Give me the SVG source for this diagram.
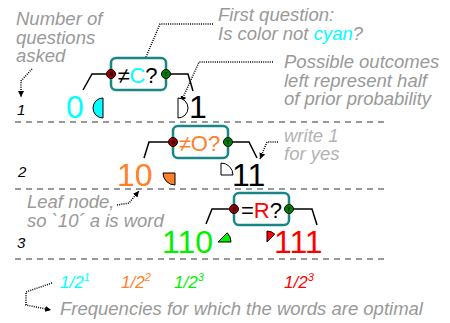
<svg xmlns="http://www.w3.org/2000/svg" width="450" height="323" viewBox="0 0 450 323">
<style>
text{font-family:"Liberation Sans",Arial,sans-serif}
.note{font-size:18.5px;font-style:italic;fill:#999}
.light{font-size:18.5px;font-style:italic;fill:#b3b3b3}
.row{font-size:15px;font-style:italic;fill:#000}
.big{font-size:32px}
.q{font-size:22px;text-anchor:middle}
.box{fill:#fff;stroke:#1a8585;stroke-width:2.5}
.no{fill:#a00000;stroke:#000;stroke-width:1}
.yes{fill:#008000;stroke:#000;stroke-width:1}
.lbl{font-size:5px;font-weight:bold;text-anchor:middle;fill:#000}
.conn{fill:none;stroke:#000;stroke-width:1.5}
.dash{fill:none;stroke:#999;stroke-width:2;stroke-dasharray:6 5}
.dot{fill:none;stroke:#000;stroke-width:1.5;stroke-dasharray:1 1.2}
.pie{stroke:#000;stroke-width:1}
.frac{font-size:17px;font-style:italic}
</style>
<defs>
<marker id="ah" markerUnits="userSpaceOnUse" markerWidth="7" markerHeight="6" refX="6" refY="3" orient="auto">
<path d="M0,0 L6,3 L0,6 z" fill="#000"/>
</marker>
</defs>

<g id="separators">
<line class="dash" x1="15" y1="122" x2="385" y2="122"/>
<line class="dash" x1="15" y1="189" x2="385" y2="189"/>
<line class="dash" x1="15" y1="259" x2="385" y2="259"/>
</g>

<g id="connectors">
<path class="conn" d="M111,74 L92,74 L83,90"/>
<path class="conn" d="M166,74 L188,74 L193,91"/>
<path class="conn" d="M173,142 L149,142 L144,158"/>
<path class="conn" d="M228,142 L249,142 L257,158"/>
<path class="conn" d="M234,209 L212,209 L206,224"/>
<path class="conn" d="M289,209 L312,209 L317,225"/>
</g>

<g id="annotation-arrows">
<path class="dot" d="M32,69 L21,81 L21,97" marker-end="url(#ah)"/>
<path class="dot" d="M213,24 L160,24 L143,64" marker-end="url(#ah)"/>
<path class="dot" d="M273,62 L199,62 L181,102" marker-end="url(#ah)"/>
<path class="dot" d="M278,142 L267,142 L260,159" marker-end="url(#ah)"/>
<path class="dot" d="M117,205 L129,203 L139,191" marker-end="url(#ah)"/>
<path class="dot" d="M52,283 L26,292 L26,305 L51,310" marker-end="url(#ah)"/>
</g>

<g id="q1">
<rect class="box" x="111" y="58" width="55" height="32" rx="5"/>
<text class="q" x="137.5" y="83"><tspan fill="#000">≠</tspan><tspan fill="#00ffff">C</tspan><tspan fill="#000">?</tspan></text>
<circle class="no" cx="111" cy="74" r="4.5"/><text class="lbl" x="111" y="75.8">N</text>
<circle class="yes" cx="166" cy="74" r="4.5"/><text class="lbl" x="166" y="75.8">Y</text>
</g>

<g id="q2">
<rect class="box" x="173" y="126" width="55" height="32" rx="5"/>
<text class="q" x="199.5" y="151" fill="#ff7f2a">≠O?</text>
<circle class="no" cx="173" cy="142" r="4.5"/><text class="lbl" x="173" y="143.8">N</text>
<circle class="yes" cx="228" cy="142" r="4.5"/><text class="lbl" x="228" y="143.8">Y</text>
</g>

<g id="q3">
<rect class="box" x="234" y="193" width="55" height="32" rx="5"/>
<text class="q" x="261.5" y="218"><tspan fill="#000">=</tspan><tspan fill="#ff0000">R</tspan><tspan fill="#000">?</tspan></text>
<circle class="no" cx="234" cy="209" r="4.5"/><text class="lbl" x="234" y="210.8">N</text>
<circle class="yes" cx="289" cy="209" r="4.5"/><text class="lbl" x="289" y="210.8">Y</text>
</g>

<g id="leaf-0">
<text class="big" x="66" y="118" fill="#00ffff">0</text>
<path class="pie" d="M103,98 A10,10 0 0,0 103,118 Z" fill="#00ffff"/>
</g>
<g id="node-1">
<path class="pie" d="M178,98 A10,10 0 0,1 178,118 Z" fill="#fff"/>
<text class="big" x="189" y="118" fill="#000">1</text>
</g>
<g id="leaf-10">
<text class="big" x="117" y="186" fill="#ff7f2a">10</text>
<path class="pie" d="M175,173 L163,173 A12,12 0 0,0 175,185 Z" fill="#ff7f2a"/>
</g>
<g id="node-11">
<path class="pie" d="M221,175 L221,163 A12,12 0 0,1 233,175 Z" fill="#fff"/>
<text class="big" x="232" y="186" fill="#000">11</text>
</g>
<g id="leaf-110">
<text class="big" x="162" y="253" fill="#00f000">110</text>
<path class="pie" d="M218,242 L231,242 A13,13 0 0,0 227.2,232.8 Z" fill="#00f000"/>
</g>
<g id="leaf-111">
<path class="pie" d="M267,242 L267,231 A11,11 0 0,1 274.8,234.2 Z" fill="#ff0000"/>
<text class="big" x="274" y="253" fill="#ff0000">111</text>
</g>

<g id="row-labels">
<text class="row" x="17" y="115">1</text>
<text class="row" x="18" y="177">2</text>
<text class="row" x="17" y="248">3</text>
</g>

<g id="notes">
<text class="note" x="16" y="25">Number of</text>
<text class="note" x="16" y="43.5">questions</text>
<text class="note" x="16" y="62">asked</text>
<text class="note" x="218" y="21">First question:</text>
<text class="note" x="218" y="40">Is color not <tspan fill="#00ffff">cyan</tspan>?</text>
<text class="note" x="284" y="68">Possible outcomes</text>
<text class="note" x="284" y="86.5">left represent half</text>
<text class="note" x="284" y="105">of prior probability</text>
<text class="light" x="284" y="142">write 1</text>
<text class="light" x="284" y="160">for yes</text>
<text class="note" x="27" y="208">Leaf node,</text>
<text class="note" x="27" y="227">so `10´ a is word</text>
<text class="note" x="60" y="315">Frequencies for which the words are optimal</text>
</g>

<g id="frequencies">
<text class="frac" x="60" y="288" fill="#00ffff">1/2<tspan font-size="11" dy="-7">1</tspan></text>
<text class="frac" x="121" y="288" fill="#ff7f2a">1/2<tspan font-size="11" dy="-7">2</tspan></text>
<text class="frac" x="174" y="288" fill="#00f000">1/2<tspan font-size="11" dy="-7">3</tspan></text>
<text class="frac" x="284" y="288" fill="#ff0000">1/2<tspan font-size="11" dy="-7">3</tspan></text>
</g>
</svg>
